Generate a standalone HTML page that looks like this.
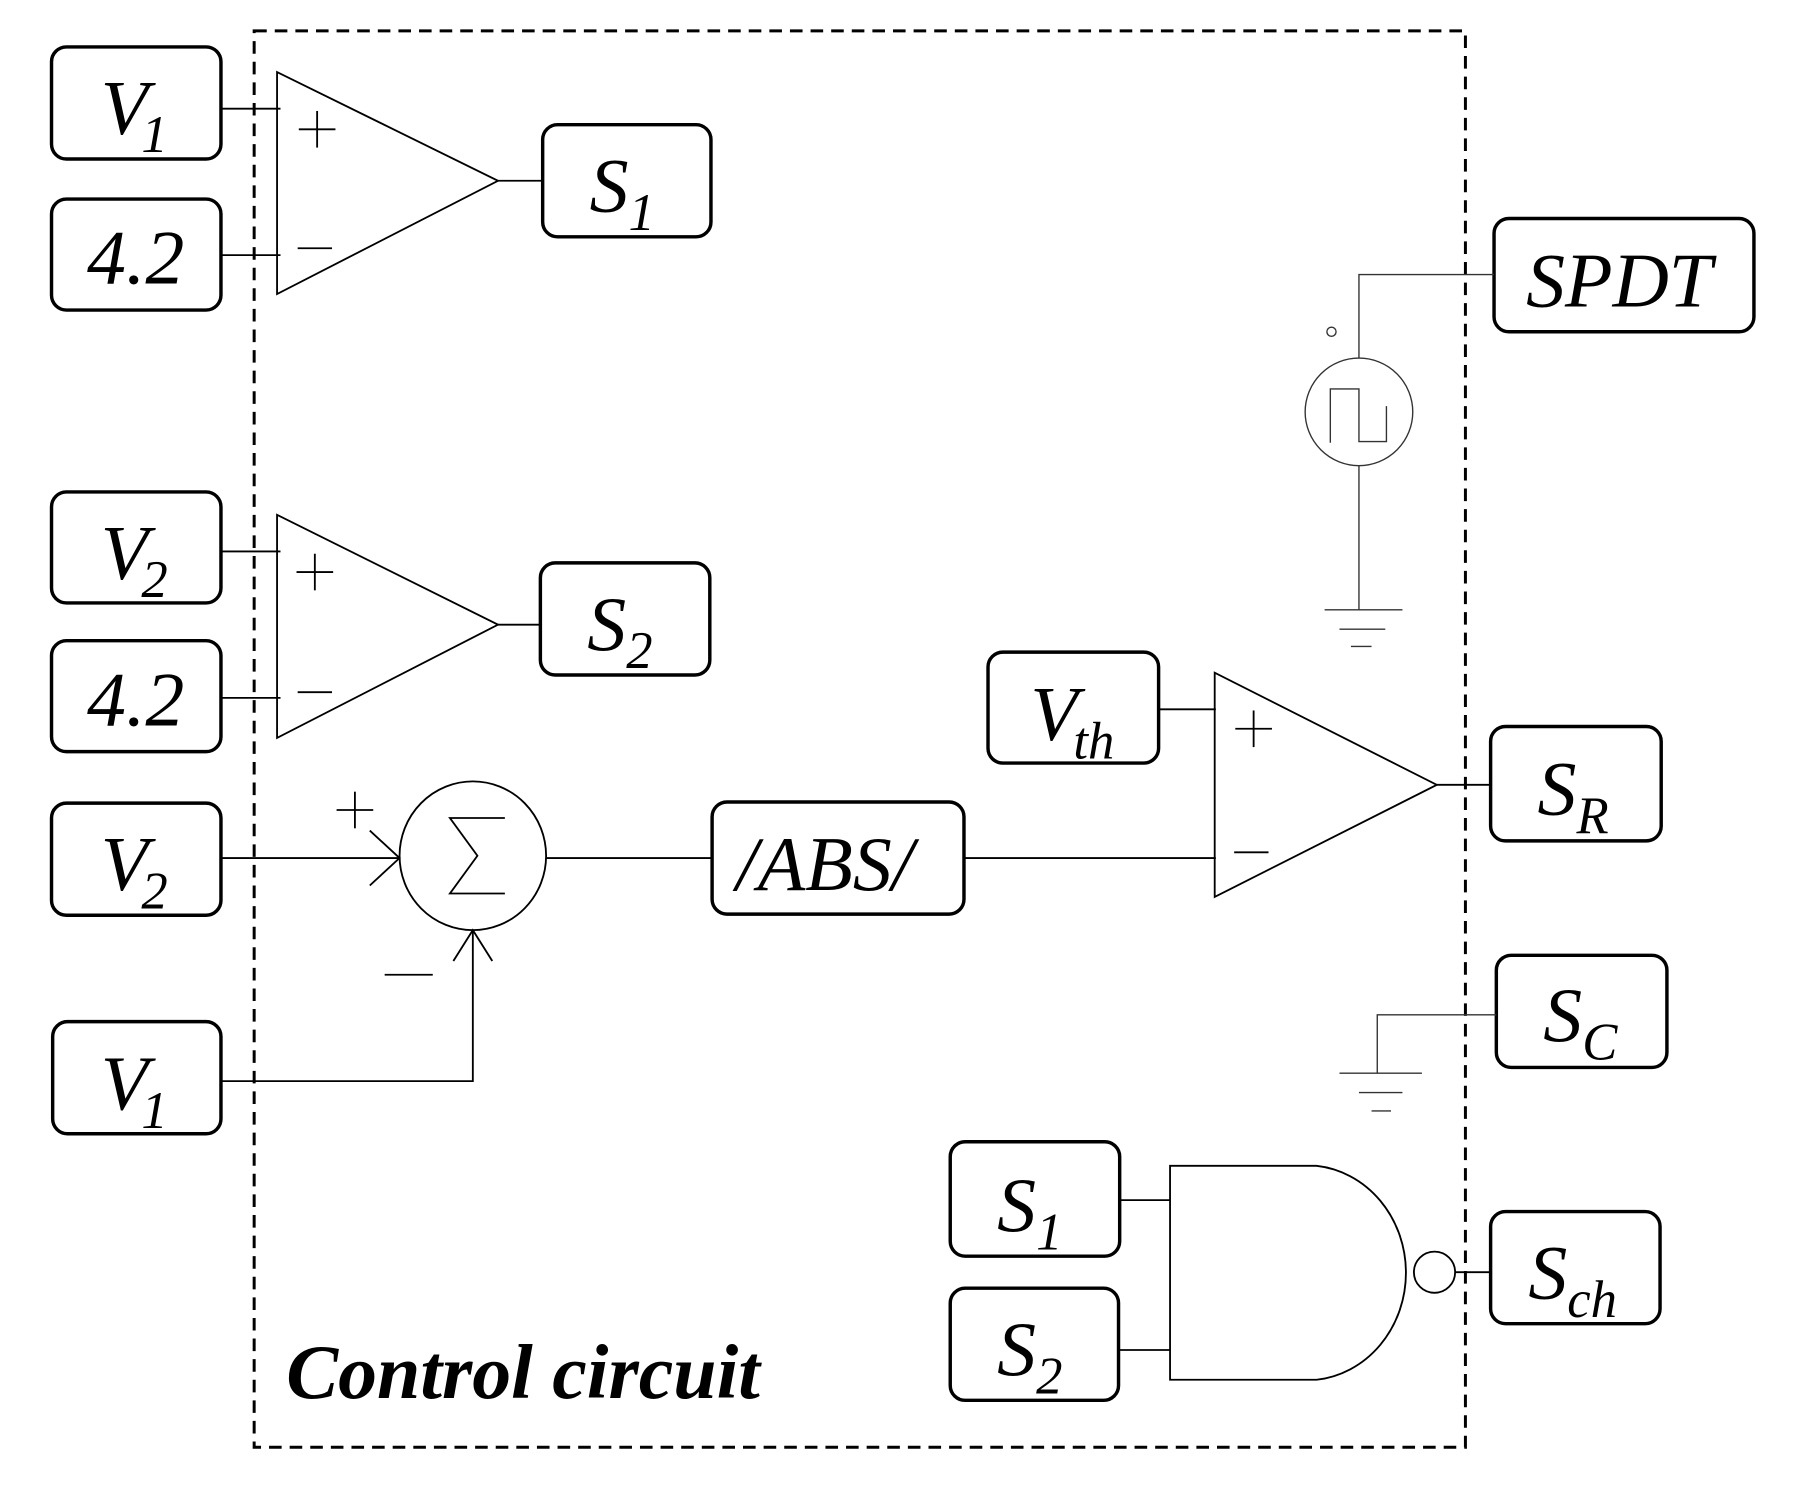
<!DOCTYPE html>
<html><head><meta charset="utf-8"><style>
html,body{margin:0;padding:0;background:#fff;}
svg{display:block;}
text{font-family:"Liberation Serif",serif;font-style:italic;fill:#000;}
</style></head><body>
<svg width="1794" height="1493" viewBox="0 0 1567 1305" preserveAspectRatio="none" xmlns="http://www.w3.org/2000/svg">
<g fill="none" stroke="#000">
<rect x="222" y="27" width="1058" height="1238" stroke-width="2.6" stroke-dasharray="11,7"/>
<g stroke-width="3">
<rect x="45" y="41" width="148" height="98" rx="13"/>
<rect x="45" y="174" width="148" height="97" rx="13"/>
<rect x="474" y="109" width="147" height="98" rx="13"/>
<rect x="45" y="430" width="148" height="97" rx="13"/>
<rect x="45" y="560" width="148" height="97" rx="13"/>
<rect x="472" y="492" width="148" height="98" rx="13"/>
<rect x="45" y="702" width="148" height="98" rx="13"/>
<rect x="46" y="893" width="147" height="98" rx="13"/>
<rect x="622" y="701" width="220" height="98" rx="13"/>
<rect x="863" y="570" width="149" height="97" rx="13"/>
<rect x="1305" y="191" width="227" height="99" rx="13"/>
<rect x="1302" y="635" width="149" height="100" rx="13"/>
<rect x="1307" y="835" width="149" height="98" rx="13"/>
<rect x="1302" y="1059" width="148" height="98" rx="13"/>
<rect x="830" y="998" width="148" height="100" rx="13"/>
<rect x="830" y="1126" width="147" height="98" rx="13"/>
</g>
<g stroke-width="1.6">
<polygon points="242,63 242,257 435,158"/>
<line x1="193" y1="95" x2="245" y2="95"/><line x1="193" y1="223" x2="245" y2="223"/>
<line x1="435" y1="158" x2="474" y2="158"/>
<line x1="261" y1="113" x2="293" y2="113"/><line x1="277" y1="97" x2="277" y2="129"/>
<line x1="260" y1="217" x2="290" y2="217"/>
<polygon points="242,450 242,645 435,546"/>
<line x1="193" y1="482" x2="245" y2="482"/><line x1="193" y1="610" x2="245" y2="610"/>
<line x1="435" y1="546" x2="472" y2="546"/>
<line x1="259" y1="500" x2="291" y2="500"/><line x1="275" y1="484" x2="275" y2="516"/>
<line x1="260" y1="605" x2="290" y2="605"/>
<polygon points="1061,588 1061,784 1255,686"/>
<line x1="1012" y1="620" x2="1062" y2="620"/><line x1="842" y1="750" x2="1062" y2="750"/>
<line x1="1255" y1="686" x2="1302" y2="686"/>
<line x1="1079" y1="637" x2="1111" y2="637"/><line x1="1095" y1="621" x2="1095" y2="653"/>
<line x1="1078" y1="745" x2="1108" y2="745"/>
<ellipse cx="413" cy="748" rx="64" ry="65"/>
<polyline points="441,715 393,715 417,748 393,781 441,781"/>
<line x1="193" y1="750" x2="349" y2="750"/>
<polyline points="323,726 349,750 323,774"/>
<line x1="294" y1="708" x2="326" y2="708"/><line x1="310" y1="692" x2="310" y2="724"/>
<line x1="336" y1="852" x2="378" y2="852"/>
<polyline points="193,945 413,945 413,813"/>
<polyline points="396,840 413,813 430,840"/>
<line x1="477" y1="750" x2="622" y2="750"/>
<line x1="978" y1="1049" x2="1022" y2="1049"/><line x1="978" y1="1180" x2="1022" y2="1180"/>
<path d="M1022,1019 L1022,1206 L1150,1206 A87,94 0 0 0 1150,1019 Z"/>
<circle cx="1253" cy="1112" r="18"/>
<line x1="1271" y1="1112" x2="1302" y2="1112"/>
</g>
<g stroke-width="1.2" stroke="#333">
<circle cx="1187" cy="360" r="47"/>
<polyline points="1187,313 1187,240 1305,240"/>
<circle cx="1163" cy="290" r="4"/>
<polyline points="1162,387 1162,340 1187,340 1187,386 1211,386 1211,355"/>
<line x1="1187" y1="407" x2="1187" y2="533"/>
<line x1="1157" y1="533" x2="1225" y2="533"/><line x1="1170" y1="550" x2="1210" y2="550"/><line x1="1180" y1="565" x2="1198" y2="565"/>
<polyline points="1307,887 1203,887 1203,938"/>
<line x1="1170" y1="938" x2="1242" y2="938"/><line x1="1187" y1="955" x2="1225" y2="955"/><line x1="1198" y1="971" x2="1215" y2="971"/>
</g>
</g>
<g font-size="68">
<text x="88" y="117">V<tspan font-size="46" dy="16" dx="-6">1</tspan></text>
<text x="76" y="248">4.2</text>
<text x="515" y="185">S<tspan font-size="46" dy="16">1</tspan></text>
<text x="88" y="506">V<tspan font-size="46" dy="16" dx="-6">2</tspan></text>
<text x="76" y="634">4.2</text>
<text x="513" y="568">S<tspan font-size="46" dy="16">2</tspan></text>
<text x="88" y="778">V<tspan font-size="46" dy="16" dx="-6">2</tspan></text>
<text x="88" y="970">V<tspan font-size="46" dy="16" dx="-6">1</tspan></text>
<text x="643" y="778">/ABS/</text>
<text x="900" y="647">V<tspan font-size="46" dy="16" dx="-4">th</tspan></text>
<text x="1333" y="268">SPDT</text>
<text x="1343" y="712">S<tspan font-size="46" dy="16">R</tspan></text>
<text x="1348" y="910">S<tspan font-size="46" dy="16">C</tspan></text>
<text x="1335" y="1135">S<tspan font-size="46" dy="16">ch</tspan></text>
<text x="871" y="1076">S<tspan font-size="46" dy="16">1</tspan></text>
<text x="871" y="1202">S<tspan font-size="46" dy="16">2</tspan></text>
</g>
<text x="250" y="1222" font-size="68" font-weight="bold">Control circuit</text>
</svg>
</body></html>
